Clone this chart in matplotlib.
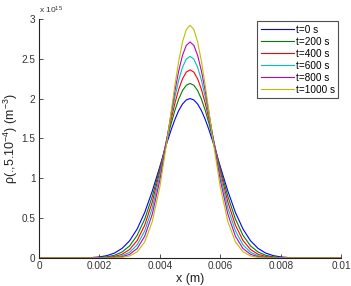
import matplotlib
matplotlib.use('Agg')
import matplotlib.pyplot as plt

plt.rcParams['font.family'] = ['Liberation Sans', 'DejaVu Sans']
plt.rcParams['mathtext.fontset'] = 'custom'
plt.rcParams['mathtext.rm'] = 'Liberation Sans'
plt.rcParams['mathtext.it'] = 'Liberation Sans:italic'

# positions along x (m)
x = [0, 0.0015, 0.00175, 0.002, 0.00225, 0.0025, 0.00275, 0.003, 0.00325, 0.0035,
     0.00375, 0.004, 0.00425, 0.004375, 0.0045, 0.004625, 0.00475, 0.004875, 0.005,
     0.005125, 0.00525, 0.005375, 0.0055, 0.005625, 0.00575, 0.006, 0.00625, 0.0065,
     0.00675, 0.007, 0.00725, 0.0075, 0.00775, 0.008, 0.00825, 0.0085, 0.01]

# density values, units of 1e15 m^-3
rho_t0 = [0, 0.0022, 0.0056, 0.0134, 0.0298, 0.0618, 0.120, 0.216, 0.364, 0.572, 0.839,
          1.147, 1.463, 1.609, 1.740, 1.850, 1.932, 1.983, 2.000,
          1.983, 1.932, 1.850, 1.740, 1.609, 1.463, 1.147, 0.839, 0.572, 0.364, 0.216,
          0.120, 0.0618, 0.0298, 0.0134, 0.0056, 0.0022, 0]
rho_t200 = [0, 0.0006, 0.0019, 0.0054, 0.0141, 0.0340, 0.0749, 0.152, 0.284, 0.489, 0.773,
            1.124, 1.505, 1.688, 1.854, 1.994, 2.101, 2.167, 2.190,
            2.167, 2.101, 1.994, 1.854, 1.688, 1.505, 1.124, 0.773, 0.489, 0.284, 0.152,
            0.0749, 0.0340, 0.0141, 0.0054, 0.0019, 0.0006, 0]
rho_t400 = [0, 0.0002, 0.0007, 0.0022, 0.0067, 0.0185, 0.0466, 0.1062, 0.2195, 0.412, 0.703,
            1.087, 1.526, 1.743, 1.944, 2.116, 2.248, 2.332, 2.360,
            2.332, 2.248, 2.116, 1.944, 1.743, 1.526, 1.087, 0.703, 0.412, 0.2195, 0.1062,
            0.0466, 0.0185, 0.0067, 0.0022, 0.0007, 0.0002, 0]
rho_t600 = [0, 0.0, 0.0002, 0.0008, 0.0030, 0.0096, 0.0278, 0.0716, 0.1652, 0.3405, 0.628,
            1.038, 1.532, 1.786, 2.025, 2.232, 2.393, 2.495, 2.530,
            2.495, 2.393, 2.232, 2.025, 1.786, 1.532, 1.038, 0.628, 0.3405, 0.1652, 0.0716,
            0.0278, 0.0096, 0.0030, 0.0008, 0.0002, 0.0, 0]
rho_t800 = [0, 0.0, 0.0001, 0.0003, 0.0012, 0.0046, 0.0155, 0.0457, 0.1191, 0.273, 0.550,
            0.977, 1.527, 1.819, 2.100, 2.348, 2.543, 2.667, 2.710,
            2.667, 2.543, 2.348, 2.100, 1.819, 1.527, 0.977, 0.550, 0.273, 0.1191, 0.0457,
            0.0155, 0.0046, 0.0012, 0.0003, 0.0001, 0.0, 0]
rho_t1000 = [0, 0.0, 0.0, 0.0001, 0.0004, 0.0018, 0.0072, 0.0253, 0.0770, 0.2021, 0.457,
             0.891, 1.498, 1.836, 2.170, 2.471, 2.711, 2.866, 2.920,
             2.866, 2.711, 2.471, 2.170, 1.836, 1.498, 0.891, 0.457, 0.2021, 0.0770, 0.0253,
             0.0072, 0.0018, 0.0004, 0.0001, 0.0, 0.0, 0]

labels = ['t=0 s', 't=200 s', 't=400 s', 't=600 s', 't=800 s', 't=1000 s']
series = [rho_t0, rho_t200, rho_t400, rho_t600, rho_t800, rho_t1000]
colors = ['#0000ff', '#008000', '#ff0000', '#00bfbf', '#bf00bf', '#bfbf00']

x_ticks = [0, 0.002, 0.004, 0.006, 0.008, 0.01]
x_tick_labels = ['0', '0.002', '0.004', '0.006', '0.008', '0.01']
y_ticks = [0, 0.5, 1, 1.5, 2, 2.5, 3]
y_tick_labels = ['0', '0.5', '1', '1.5', '2', '2.5', '3']

fig = plt.figure(figsize=(3.51, 2.86), dpi=100)
ax = fig.add_axes([0.111, 0.098, 0.861, 0.836])

for vals, lab, c in zip(series, labels, colors):
    ax.plot(x, vals, color=c, lw=0.8, label=lab)

ax.set_xlim(0, 0.01)
ax.set_ylim(0, 3)
ax.set_xticks(x_ticks)
ax.set_xticklabels(x_tick_labels)
ax.set_yticks(y_ticks)
ax.set_yticklabels(y_tick_labels)
ax.tick_params(direction='in', length=3, width=0.6, labelsize=7.2, pad=2.5,
               colors='#333333')
ax.spines['top'].set_visible(False)
ax.spines['right'].set_visible(False)
for s in ['left', 'bottom']:
    ax.spines[s].set_linewidth(0.8)
    ax.spines[s].set_color('#222222')

ax.set_xlabel('x (m)', fontsize=9, labelpad=1, color='#222222')
ax.set_ylabel('\u03c1(.,5.10$^{-4}$) (m$^{-3}$)', fontsize=9, color='#222222')
ax.yaxis.set_label_coords(-0.062, 0.5)
ax.text(0.0, 1.012, r'x 10$^{15}$', transform=ax.transAxes, fontsize=6, ha='left',
        va='bottom', color='#333333')

leg = ax.legend(loc='upper right', bbox_to_anchor=(0.99, 0.99), fontsize=7.2,
                frameon=True, fancybox=False, handlelength=3.3, handletextpad=0.2,
                labelspacing=0.2, borderpad=0.35, borderaxespad=0)
leg.get_frame().set_edgecolor('#222222')
leg.get_frame().set_linewidth(0.8)

fig.savefig('out.png', dpi=100)
